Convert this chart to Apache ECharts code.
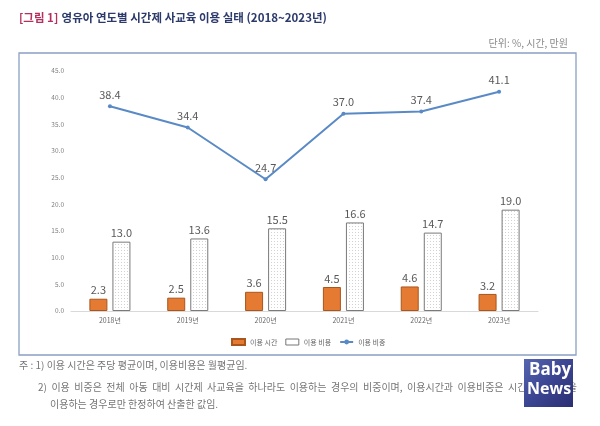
<!DOCTYPE html>
<html><head><meta charset="utf-8">
<script src="https://cdn.jsdelivr.net/npm/echarts@6/dist/echarts.min.js"></script>
<style>html,body{margin:0;padding:0;background:#fff}#c{width:600px;height:426px}</style>
</head><body><div id="c"></div>
<script>
const categories = ['2018년','2019년','2020년','2021년','2022년','2023년'];
const hoursData = [2.3, 2.5, 3.6, 4.5, 4.6, 3.2];
const costData = [13.0, 13.6, 15.5, 16.6, 14.7, 19.0];
const shareData = [38.4, 34.4, 24.7, 37.0, 37.4, 41.1];
const seriesNames = ['이용 시간', '이용 비용', '이용 비중'];
const yTicks = {min: 0, max: 45, interval: 5};

const font = '"Noto Sans CJK KR", "Noto Sans", sans-serif';
const pc = document.createElement('canvas');
pc.width = 3; pc.height = 3;
const g = pc.getContext('2d');
g.fillStyle = '#ffffff'; g.fillRect(0,0,3,3);
g.fillStyle = '#d2d2d2'; g.fillRect(1,1,1,1);
const dotPattern = {image: pc, repeat: 'repeat'};

const chart = echarts.init(document.getElementById('c'), null, {renderer: 'canvas'});
chart.setOption({
  animation: false,
  textStyle: {fontFamily: font},
  grid: {left: 71, right: 62, top: 71, bottom: 115},
  legend: {
    left: 226, top: 333, itemWidth: 13, itemHeight: 6, itemGap: 8,
    textStyle: {fontSize: 7, color: '#666', fontFamily: font},
    data: [
      {name: seriesNames[0], icon: 'rect'},
      {name: seriesNames[1], icon: 'rect', itemStyle: {color: '#fff', borderColor: '#777', borderWidth: 1}},
      {name: seriesNames[2]}
    ]
  },
  xAxis: {
    type: 'category', data: categories,
    axisLine: {lineStyle: {color: '#d9d9d9', width: 1}},
    axisTick: {show: false},
    axisLabel: {fontSize: 7, color: '#666', margin: 6}
  },
  yAxis: {
    type: 'value', min: yTicks.min, max: yTicks.max, interval: yTicks.interval,
    axisLine: {show: false}, axisTick: {show: false}, splitLine: {show: false},
    axisLabel: {fontSize: 6.5, color: '#7f7f7f', margin: 7, formatter: v => v.toFixed(1)}
  },
  series: [
    {
      name: seriesNames[0], type: 'bar', data: hoursData, barWidth: 18, barGap: '28%',
      itemStyle: {color: '#e57a32', borderColor: '#a9561e', borderWidth: 1},
      label: {show: true, position: 'top', distance: 3, fontSize: 11, color: '#595959', formatter: p => p.value.toFixed(1)}
    },
    {
      name: seriesNames[1], type: 'bar', data: costData, barWidth: 18,
      itemStyle: {color: dotPattern, borderColor: '#7a7a7a', borderWidth: 1},
      label: {show: true, position: 'top', distance: 3, fontSize: 11, color: '#595959', formatter: p => p.value.toFixed(1)}
    },
    {
      name: seriesNames[2], type: 'line', data: shareData,
      symbol: 'circle', symbolSize: 4,
      lineStyle: {color: '#5a8ac6', width: 2}, itemStyle: {color: '#5a8ac6'},
      label: {show: true, position: 'top', distance: 4, fontSize: 11, color: '#595959', formatter: p => p.value.toFixed(1)}
    }
  ],
  graphic: [
    {type: 'rect', shape: {x: 19, y: 53, width: 557, height: 302}, style: {fill: 'none', stroke: '#8aa0c4', lineWidth: 1.3}, silent: true},
    {type: 'text', left: 19, top: 12, style: {
      text: '{a|[그림 1]} {b|영유아 연도별 시간제 사교육 이용 실태 (2018~2023년)}',
      rich: {
        a: {fill: '#b3305f', fontSize: 11.5, fontWeight: 'bold', fontFamily: font},
        b: {fill: '#2b3a6b', fontSize: 11.5, fontWeight: 'bold', fontFamily: font}
      }}},
    {type: 'text', right: 32, top: 38, style: {text: '단위: %, 시간, 만원', fill: '#8a8a8a', fontSize: 10, fontFamily: font}},
    {type: 'text', left: 19, top: 360, style: {text: '주 : 1) 이용 시간은 주당 평균이며, 이용비용은 월평균임.', fill: '#767676', fontSize: 10, fontFamily: font}},
    {type: 'text', left: 38, top: 382, style: {text: '2)  이용  비중은  전체  아동  대비  시간제  사교육을  하나라도  이용하는  경우의  비중이며,  이용시간과  이용비중은  시간제  사교육을', fill: '#767676', fontSize: 10, fontFamily: font}},
    {type: 'text', left: 50, top: 399, style: {text: '이용하는 경우로만 한정하여 산출한 값임.', fill: '#767676', fontSize: 10, fontFamily: font}},
    {type: 'rect', shape: {x: 524, y: 359, width: 49, height: 48}, style: {
      fill: new echarts.graphic.LinearGradient(0, 0, 1, 1, [{offset: 0, color: '#5666b0'}, {offset: 0.5, color: '#3b4591'}, {offset: 1, color: '#2b2f72'}])}},
    {type: 'text', left: 529, top: 362, style: {text: 'Baby', fill: '#fff', fontSize: 17, fontWeight: 'bold', fontFamily: '"Open Sans", sans-serif'}},
    {type: 'text', left: 527, top: 381, style: {text: 'News', fill: '#fff', fontSize: 16, fontWeight: 'bold', fontFamily: '"Open Sans", sans-serif'}}
  ]
});
</script></body></html>
